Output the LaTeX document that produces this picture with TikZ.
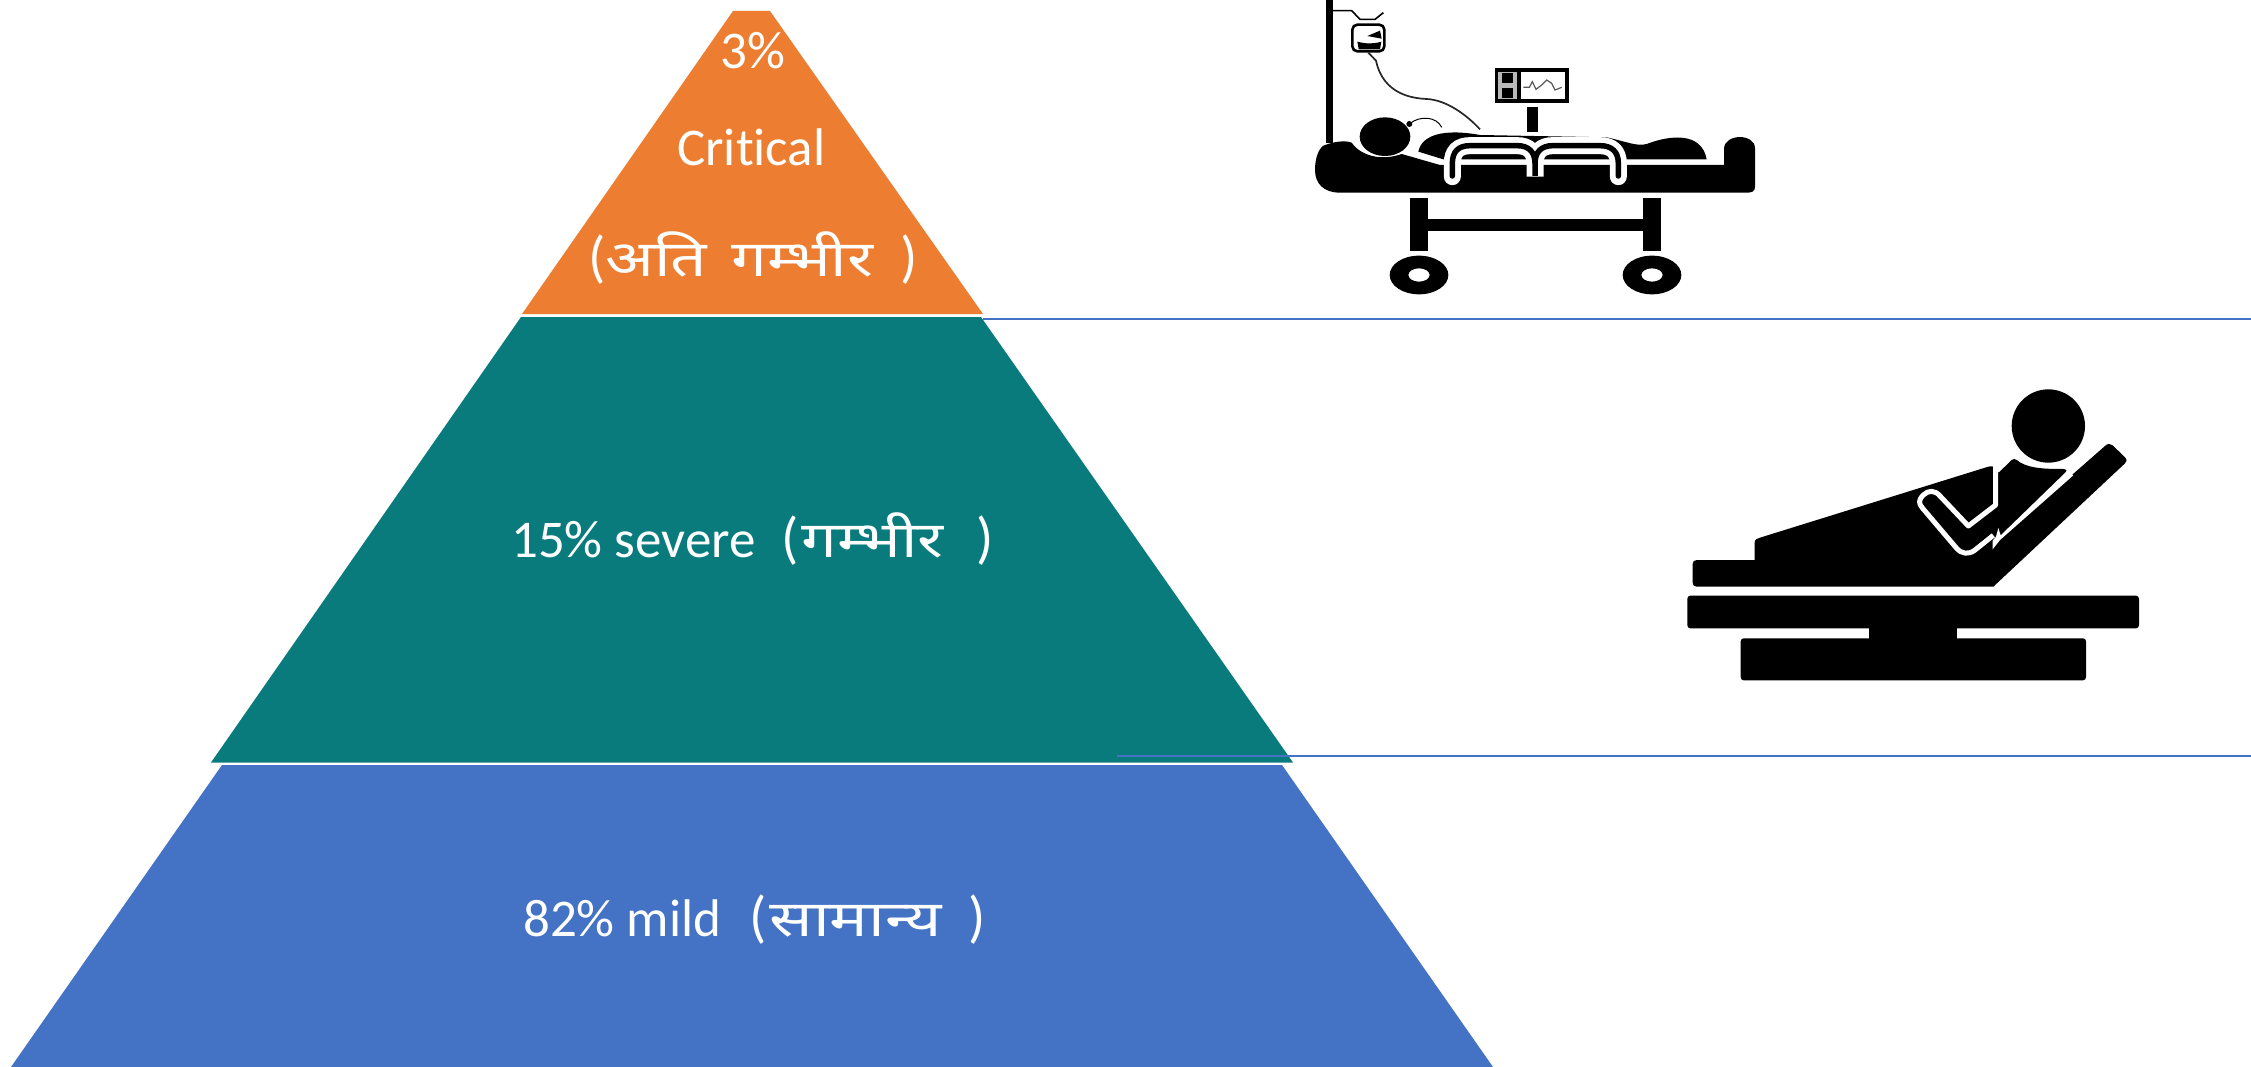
\documentclass[tikz,border=0pt]{standalone}
\usepackage{fontspec}
\setmainfont[Ligatures=NoCommon]{Carlito}
\newfontfamily\devfont[Script=Devanagari]{Noto Sans}
\definecolor{orangeT}{HTML}{ED7D31}
\definecolor{tealT}{HTML}{0A7B7D}
\definecolor{blueT}{HTML}{4472C4}
\tikzset{
  lbl/.style={text=white,inner sep=0pt,anchor=base west,font=\fontsize{53}{53}\selectfont},
  rule/.style={draw=blueT,line width=1.2pt},
  iconA/.style={shift={(1280,0)},x=0.33333pt,y=-0.33333pt},
  iconB/.style={shift={(1660,370)},x=0.33333pt,y=-0.33333pt}
}
\newcommand{\dv}[2][1.27]{\scalebox{#1}[1]{\devfont\fontsize{50}{50}\selectfont #2}}
\newcommand{\opar}{{\fontsize{57}{57}\selectfont (}}
\newcommand{\cpar}{{\fontsize{57}{57}\selectfont )}}
\begin{document}
\begin{tikzpicture}[x=1pt,y=-1pt]
\useasboundingbox (0,0) rectangle (2251,1067);
\fill[white] (0,0) rectangle (2251,1067);
% pyramid
\fill[orangeT] (733,11) -- (770,11) -- (983,314) -- (522,314) -- cycle;
\fill[tealT] (521,317) -- (981,317) -- (1293,762.5) -- (211,762.5) -- cycle;
\fill[blueT] (222,765) -- (1282,765) -- (1493,1067) -- (11,1067) -- cycle;
% rules
\coordinate (r1a) at (983,319); \coordinate (r1b) at (2251,319);
\coordinate (r2a) at (1117,756); \coordinate (r2b) at (2251,756);
\draw[rule] (r1a) -- (r1b);
\draw[rule] (r2a) -- (r2b);
% labels
\node[lbl] (t1) at (720,69) {3\%};
\node[lbl] (t2) at (677,166) {Critical};
\node[lbl] (t3) at (588,277) {\opar\dv[1.28]{अति}\hspace{24pt}\dv{गम्भीर}\hspace{27pt}\cpar};
\node[lbl] (t4) at (511,557) {15\% severe\hspace{26pt}\opar\hspace{3pt}\dv{गम्भीर}\hspace{33pt}\cpar};
\node[lbl] (t5) at (523,936) {82\% mild\hspace{28pt}\opar\hspace{3pt}\dv[1.29]{सामान्य}\hspace{27pt}\cpar};
% icon A: patient on a stretcher
\begin{scope}[iconA]
  \fill[black] (137,0) rectangle (160,430);
  \draw[black,line width=1.6pt] (150,32) -- (215,32) -- (240,58) -- (285,58) -- (310,38);
  \draw[black,line width=2.6pt,fill=white,rounded corners=5pt] (217,74) rectangle (313,154);
  \fill[black] (232,125) .. controls (260,132) and (280,132) .. (304,125) -- (300,148) -- (236,148) -- cycle;
  \fill[black] (262,108) -- (300,92) -- (305,116) -- cycle;
  \draw[black!85,line width=1.7pt] (265,158) -- (288,182) .. controls (310,285) and (400,295) .. (440,297) .. controls (500,300) and (560,345) .. (600,388);
  % monitor
  \fill[black] (645,203) rectangle (868,308);
  \fill[white] (722,217) rectangle (855,297);
  \fill[gray!55] (655,215) rectangle (710,297);
  \fill[black] (665,218) rectangle (700,248);
  \fill[black] (665,265) rectangle (700,293);
  \draw[gray!70!black,line width=1.2pt] (730,262) -- (748,262) -- (757,245) -- (768,268) -- (785,255) -- (800,240) -- (815,250) -- (825,270) -- (845,262);
  \fill[black] (740,320) rectangle (773,395);
  % head, electrode
  \fill[black] (315,410) ellipse [x radius=76,y radius=58];
  \fill[black] (388,372) circle (9);
  \draw[black,line width=1pt] (388,372) .. controls (420,345) and (470,350) .. (485,382);
  % mattress
  \fill[black] (130,437) .. controls (160,425) and (195,420) .. (215,428)
    .. controls (240,465) and (300,485) .. (365,462) -- (480,495) -- (1332,495)
    -- (1332,445) .. controls (1335,400) and (1425,400) .. (1425,445)
    -- (1425,560) .. controls (1425,575) and (1415,578) .. (1400,578)
    -- (180,578) .. controls (130,578) and (105,550) .. (105,510)
    .. controls (105,475) and (115,448) .. (130,437) -- cycle;
  % body
  \fill[black] (415,455) .. controls (425,405) and (490,385) .. (600,405)
    -- (980,412) .. controls (1040,425) and (1070,440) .. (1100,432)
    .. controls (1170,405) and (1265,395) .. (1280,478) -- (490,478) -- cycle;
  % blanket
  \draw[white,line width=17pt,line cap=round]
     (517,530) -- (517,490) .. controls (517,455) and (535,437) .. (570,437) -- (712,437)
     .. controls (745,437) and (765,455) .. (765,490) -- (765,530) -- (765,490)
     .. controls (765,455) and (785,437) .. (818,437) -- (960,437)
     .. controls (995,437) and (1015,455) .. (1015,490) -- (1015,530);
  \draw[black,line width=5.5pt,line cap=round]
     (517,528) -- (517,490) .. controls (517,455) and (535,437) .. (570,437) -- (712,437)
     .. controls (745,437) and (765,455) .. (765,490) -- (765,528) -- (765,490)
     .. controls (765,455) and (785,437) .. (818,437) -- (960,437)
     .. controls (995,437) and (1015,455) .. (1015,490) -- (1015,528);
  % undercarriage
  \fill[black] (390,595) rectangle (443,752);
  \fill[black] (1090,595) rectangle (1142,752);
  \fill[black] (443,658) rectangle (1090,692);
  \fill[black,even odd rule] (417,825) ellipse [x radius=88,y radius=58] (417,825) ellipse [x radius=32,y radius=20];
  \fill[black,even odd rule] (1116,825) ellipse [x radius=88,y radius=58] (1116,825) ellipse [x radius=32,y radius=20];
\end{scope}
% icon B: reclining patient
\begin{scope}[iconB]
  \fill[black,rounded corners=3pt] (242,805) rectangle (1278,931);
  \fill[black] (628,770) rectangle (890,810);
  \fill[black,rounded corners=3pt] (82,677) rectangle (1437,775);
  \fill[black] (1165,168) circle (110);
  \fill[black] (110,570) -- (284,570) -- (284,518) .. controls (284,508) and (292,505) .. (300,503)
    -- (985,290) .. controls (992,288) and (998,288) .. (1005,292) -- (1016,308)
    -- (1055,270) .. controls (1060,266) and (1065,266) .. (1070,270)
    .. controls (1100,295) and (1150,297) .. (1210,297) .. controls (1220,298) and (1222,303) .. (1218,308)
    -- (1230,320) -- (1335,228) .. controls (1342,220) and (1352,220) .. (1358,226)
    -- (1395,262) .. controls (1402,270) and (1400,275) .. (1395,280)
    -- (1000,650) -- (110,650) .. controls (102,650) and (98,645) .. (98,638)
    -- (98,582) .. controls (98,575) and (102,570) .. (110,570) -- cycle;
  \fill[white] (1222,302) -- (1022,496) -- (1015,474) -- (1008,500) -- (998,512) -- (998,538) -- (1020,510) -- (1240,316) -- cycle;
  \draw[white,line width=5pt,line join=round]
    (1007,285) -- (1007,405) -- (925,468) -- (840,378)
    .. controls (825,360) and (805,360) .. (790,375)
    .. controls (775,390) and (775,400) .. (788,415)
    -- (890,535) .. controls (905,552) and (925,555) .. (945,540) -- (1000,496);
\end{scope}
\end{tikzpicture}
\end{document}
